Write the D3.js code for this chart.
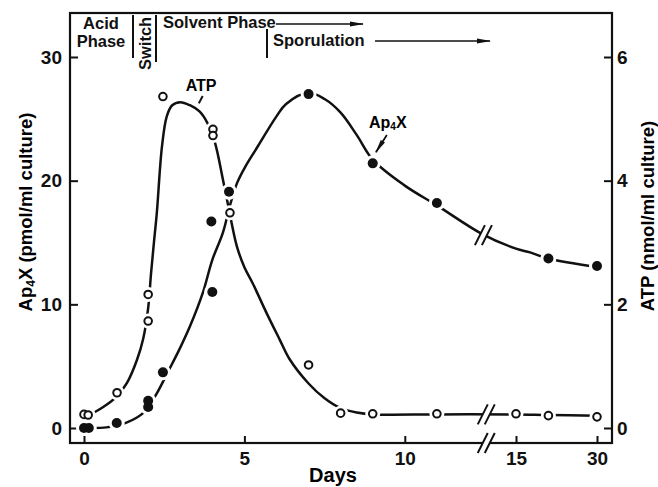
<!DOCTYPE html>
<html>
<head>
<meta charset="utf-8">
<script src="https://cdn.jsdelivr.net/npm/d3@7/dist/d3.min.js"></script>
<style>
  body{margin:0;background:#fff;}
  svg{display:block;font-family:"Liberation Sans",Arial,Helvetica,sans-serif;}
</style>
</head>
<body>
<div class="chart"></div>
<script>
// ---- data ----
// Ap4X, filled dots, left axis (pmol/ml culture)
const ap4xDays = [0, 0.15, 1.02, 2.0, 2.0, 2.46, 3.97, 4.0, 4.52, 7.0, 9.0, 11.0, 21.0, 30.0];
const ap4xVals = [0, 0, 0.4, 1.7, 2.2, 4.5, 16.7, 11.0, 19.1, 27.0, 21.4, 18.2, 13.7, 13.1];
// ATP, open dots, right axis (nmol/ml culture)
const atpDays = [0, 0.13, 1.03, 2.0, 2.0, 2.46, 4.02, 4.02, 4.55, 7.0, 8.0, 9.0, 11.0, 15.0, 21.0, 30.0];
const atpVals = [0.22, 0.21, 0.57, 2.16, 1.73, 5.36, 4.83, 4.73, 3.48, 1.02, 0.24, 0.23, 0.23, 0.23, 0.2, 0.18];

// hand-fitted curves as drawn in the figure
const ap4xCurveDays = [0.2, 0.7, 1.0, 1.34, 1.65, 1.84, 2.0, 2.27, 2.65, 3.0, 3.3, 3.7, 4.0, 4.33, 4.55, 4.77, 5.0, 5.4, 6.0, 6.3, 7.0, 7.5, 8.0, 8.5, 9.0, 10.0, 11.0, 12.4, 15.0, 17.6, 21.0, 30.0];
const ap4xCurveVals = [0, 0.05, 0.2, 0.45, 0.85, 1.2, 1.7, 2.8, 4.7, 6.5, 8.2, 10.9, 13.6, 15.8, 18.0, 19.8, 21.0, 22.7, 25.2, 26.2, 27.1, 26.6, 25.5, 23.7, 21.7, 19.6, 18.0, 15.7, 14.5, 14.2, 13.7, 13.0];
const atpCurveDays = [0.2, 0.6, 1.0, 1.34, 1.65, 1.84, 2.0, 2.09, 2.18, 2.27, 2.43, 2.58, 2.75, 3.0, 3.3, 3.6, 3.84, 4.08, 4.33, 4.49, 4.6, 4.77, 5.0, 5.25, 5.7, 6.1, 6.4, 7.0, 7.5, 8.0, 8.5, 9.0, 11.0, 15.0, 21.0, 30.0];
const atpCurveVals = [0.22, 0.34, 0.5, 0.73, 1.1, 1.43, 1.94, 2.5, 3.0, 3.48, 4.55, 5.04, 5.22, 5.27, 5.22, 5.12, 4.94, 4.62, 4.02, 3.61, 3.32, 2.93, 2.6, 2.35, 1.85, 1.43, 1.12, 0.72, 0.48, 0.32, 0.25, 0.22, 0.22, 0.22, 0.21, 0.2];

// ticks
const xTicks = [0, 5, 10, 15, 30];
const leftTicks = [0, 10, 20, 30];
const rightTicks = [0, 2, 4, 6];

setupCanvas();

function setupCanvas(){
    const svg_width = 658;
    const svg_height = 487;
    const frame = {left:70, right:612, top:13, bottom:443};

    const svg = d3.select(".chart").append("svg")
        .attr("width", svg_width).attr("height", svg_height);

    // x axis has a break between day 12.5 and 15
    const xScale = d3.scaleLinear().domain([0, 12.5, 15, 30]).range([84, 485, 516, 597]);
    const yLeft = d3.scaleLinear().domain([0, 30]).range([428, 57]);
    const yRight = d3.scaleLinear().domain([0, 6]).range([428, 57]);

    // frame
    svg.append("rect")
        .attr("x", frame.left).attr("y", frame.top)
        .attr("width", frame.right - frame.left).attr("height", frame.bottom - frame.top)
        .style("fill", "none").style("stroke", "#111").style("stroke-width", 2.2);

    // axes (ticks point inward)
    const tickFont = g => g.selectAll("text")
        .style("font-size", "19px").style("font-weight", "bold").style("fill", "#111");

    const xAxis = d3.axisBottom(xScale).tickValues(xTicks).tickSize(-7).tickPadding(9);
    svg.append("g").attr("class", "x axis")
        .attr("transform", `translate(0,${frame.bottom})`)
        .call(xAxis).call(g => g.select(".domain").remove()).call(tickFont);

    const yAxisL = d3.axisLeft(yLeft).tickValues(leftTicks).tickSize(-8).tickPadding(8);
    svg.append("g").attr("class", "y axis left")
        .attr("transform", `translate(${frame.left},0)`)
        .call(yAxisL).call(g => g.select(".domain").remove()).call(tickFont);

    const yAxisR = d3.axisRight(yRight).tickValues(rightTicks).tickFormat(d3.format("d"))
        .tickSize(-8).tickPadding(5);
    svg.append("g").attr("class", "y axis right")
        .attr("transform", `translate(${frame.right},0)`)
        .call(yAxisR).call(g => g.select(".domain").remove()).call(tickFont);

    svg.selectAll(".tick line").style("stroke", "#111").style("stroke-width", 2);

    // axis titles
    svg.append("text").attr("x", 333).attr("y", 482)
        .attr("text-anchor", "middle")
        .style("font-size", "20px").style("font-weight", "bold").text("Days");

    const leftTitle = svg.append("text")
        .attr("transform", "translate(32,212) rotate(-90)")
        .attr("text-anchor", "middle")
        .style("font-size", "18.5px").style("font-weight", "bold");
    leftTitle.append("tspan").text("Ap");
    leftTitle.append("tspan").text("4").style("font-size", "12px").attr("dy", 3);
    leftTitle.append("tspan").text("X (pmol/ml culture)").attr("dy", -3);

    svg.append("text")
        .attr("transform", "translate(654,216) rotate(-90)")
        .attr("text-anchor", "middle")
        .style("font-size", "18.5px").style("font-weight", "bold")
        .text("ATP (nmol/ml culture)");

    // curves
    const ap4xLine = d3.line().curve(d3.curveCatmullRom.alpha(0.5))
        .x(d => xScale(d[0])).y(d => yLeft(d[1]));
    const atpLine = d3.line().curve(d3.curveCatmullRom.alpha(0.5))
        .x(d => xScale(d[0])).y(d => yRight(d[1]));

    const chartG = svg.append("g").attr("class", "curves");
    chartG.append("path")
        .attr("d", ap4xLine(d3.zip(ap4xCurveDays, ap4xCurveVals)))
        .style("fill", "none").style("stroke", "#111").style("stroke-width", 2.5);
    chartG.append("path")
        .attr("d", atpLine(d3.zip(atpCurveDays, atpCurveVals)))
        .style("fill", "none").style("stroke", "#111").style("stroke-width", 2.5);

    // white halo round every dot -> the gaps in the curves
    const ap4xPts = d3.zip(ap4xDays, ap4xVals);
    const atpPts = d3.zip(atpDays, atpVals);
    chartG.selectAll(".halo-a").data(ap4xPts).enter().append("circle")
        .attr("cx", d => xScale(d[0])).attr("cy", d => yLeft(d[1])).attr("r", 8)
        .style("fill", "#fff");
    chartG.selectAll(".halo-b").data(atpPts).enter().append("circle")
        .attr("cx", d => xScale(d[0])).attr("cy", d => yRight(d[1])).attr("r", 7.5)
        .style("fill", "#fff");

    // break marks (axis + both curves)
    const breakDay = 12.6;
    drawBreak(svg, xScale(breakDay), frame.bottom);
    drawBreak(svg, xScale(breakDay), yRight(0.22));
    drawBreak(svg, xScale(12.45), yLeft(15.6));

    // dots
    chartG.selectAll(".dot-ap4x").data(ap4xPts).enter().append("circle")
        .attr("class", "dot-ap4x")
        .attr("cx", d => xScale(d[0])).attr("cy", d => yLeft(d[1])).attr("r", 5)
        .style("fill", "#111");
    chartG.selectAll(".dot-atp").data(atpPts).enter().append("circle")
        .attr("class", "dot-atp")
        .attr("cx", d => xScale(d[0])).attr("cy", d => yRight(d[1])).attr("r", 3.8)
        .style("fill", "#fff").style("stroke", "#111").style("stroke-width", 2);

    // arrow head marker
    svg.append("defs").append("marker")
        .attr("id", "head").attr("viewBox", "0 0 14 6")
        .attr("refX", 13).attr("refY", 3)
        .attr("markerUnits", "userSpaceOnUse")
        .attr("markerWidth", 15).attr("markerHeight", 6).attr("orient", "auto")
        .append("path").attr("d", "M0,0.5 L14,3 L0,5.5 Z").style("fill", "#111");

    // curve annotations
    svg.append("text").attr("x", xScale(3.65)).attr("y", yRight(5.45))
        .attr("text-anchor", "middle")
        .style("font-size", "16px").style("font-weight", "bold").text("ATP");
    svg.append("line")
        .attr("x1", xScale(3.7)).attr("y1", yRight(5.37))
        .attr("x2", xScale(3.58)).attr("y2", yRight(5.25))
        .style("stroke", "#111").style("stroke-width", 2);

    const ap4xLab = svg.append("text").attr("x", xScale(9.47)).attr("y", yLeft(24.25))
        .attr("text-anchor", "middle")
        .style("font-size", "16px").style("font-weight", "bold");
    ap4xLab.append("tspan").text("Ap");
    ap4xLab.append("tspan").text("4").style("font-size", "10px").attr("dy", 2);
    ap4xLab.append("tspan").text("X").attr("dy", -2);
    svg.append("line")
        .attr("x1", xScale(9.44)).attr("y1", yLeft(23.7))
        .attr("x2", xScale(9.1)).attr("y2", yLeft(22.3))
        .attr("marker-end", "url(#head)")
        .style("stroke", "#111").style("stroke-width", 1.8);

    // phase header
    const header = svg.append("g").attr("class", "phase-header")
        .style("font-size", "16.5px").style("font-weight", "bold").style("fill", "#111");
    const vline = (x, y1, y2) => header.append("line")
        .attr("x1", x).attr("x2", x).attr("y1", y1).attr("y2", y2)
        .style("stroke", "#111").style("stroke-width", 2);
    const arrow = (x1, x2, y) => header.append("line")
        .attr("x1", x1).attr("x2", x2).attr("y1", y).attr("y2", y)
        .attr("marker-end", "url(#head)")
        .style("stroke", "#111").style("stroke-width", 1.6);

    header.append("text").attr("x", 101).attr("y", 29).attr("text-anchor", "middle").text("Acid");
    header.append("text").attr("x", 101).attr("y", 47).attr("text-anchor", "middle").text("Phase");
    vline(133, 15, 58);
    header.append("text").attr("transform", "translate(151,70) rotate(-90)")
        .style("font-size", "16.5px").text("Switch");
    vline(156, 15, 62);
    header.append("text").attr("x", 163).attr("y", 28).text("Solvent Phase");
    arrow(276, 363, 24);
    vline(267, 29, 58);
    header.append("text").attr("x", 273).attr("y", 46).text("Sporulation");
    arrow(375, 490, 41);
}

function drawBreak(g, cx, cy){
    const dx = 5, dy = 10, gap = 7;
    const a = [cx - gap/2 - dx, cy + dy], b = [cx - gap/2 + dx, cy - dy];
    const c = [cx + gap/2 + dx, cy - dy], d = [cx + gap/2 - dx, cy + dy];
    g.append("polygon").attr("points", [a, b, c, d].map(p => p.join(",")).join(" "))
        .style("fill", "#fff");
    [[a, b], [d, c]].forEach(s => g.append("line")
        .attr("x1", s[0][0]).attr("y1", s[0][1]).attr("x2", s[1][0]).attr("y2", s[1][1])
        .style("stroke", "#111").style("stroke-width", 2));
}
</script>
</body>
</html>
